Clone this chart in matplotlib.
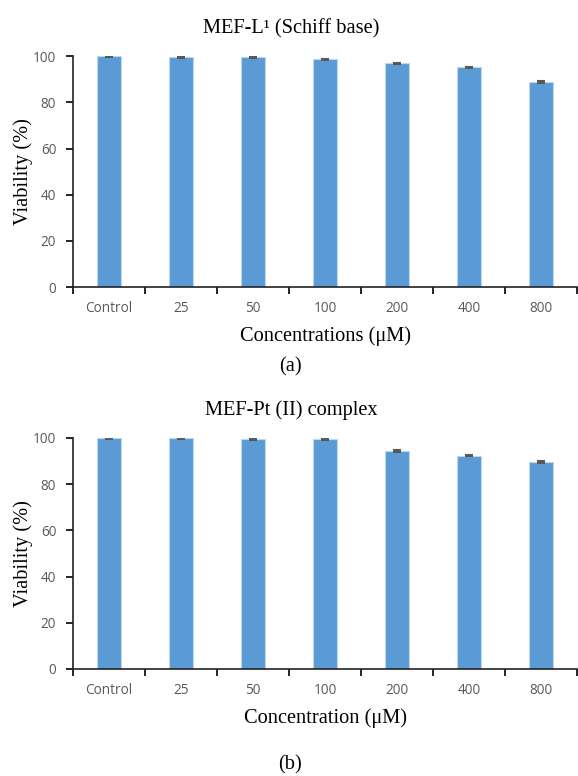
import matplotlib
matplotlib.use("Agg")
import matplotlib.pyplot as plt
import numpy as np

# data
categories = ["Control", "25", "50", "100", "200", "400", "800"]
viab_a = [100.0, 99.5, 99.4, 98.6, 96.9, 95.1, 88.8]
err_a = [0.3, 0.3, 0.3, 0.3, 0.3, 0.3, 0.3]
viab_b = [100.0, 100.0, 99.6, 99.6, 94.3, 92.4, 89.6]
err_b = [0.3, 0.3, 0.3, 0.3, 0.3, 0.3, 0.3]
yticks = [0, 20, 40, 60, 80, 100]

bar_color = "#5B9BD5"
edge_color = "#BDD7EE"
tick_color = "#595959"
serif = "Liberation Serif"
sans = "Open Sans"
fs = 14.7

fig = plt.figure(figsize=(5.78, 7.76), dpi=100)
ax1 = fig.add_axes([0.1263, 0.630, 0.872, 0.2977])
ax2 = fig.add_axes([0.1263, 0.1379, 0.872, 0.2977])


def draw_panel(ax, vals, errs, title, xlabel):
    x = np.arange(len(categories))
    ax.bar(x, vals, width=0.32, color=bar_color, edgecolor=edge_color, linewidth=0.8,
           yerr=errs, error_kw=dict(ecolor=tick_color, elinewidth=0.8, capsize=3, capthick=1.5))
    ax.set_xlim(-0.5, len(categories) - 0.5)
    ax.set_ylim(0, 100)
    ax.set_yticks(yticks)
    ax.set_yticklabels([str(t) for t in yticks], fontfamily=sans, fontsize=9.8, color=tick_color)
    # category labels in the middle, ticks at the boundaries
    ax.set_xticks(x)
    ax.set_xticklabels(categories, fontfamily=sans, fontsize=9.8, color=tick_color)
    ax.tick_params(axis="x", length=0, pad=10)
    ax.set_xticks(np.arange(len(categories) + 1) - 0.5, minor=True)
    ax.tick_params(axis="x", which="minor", length=5, width=1.2, color="black", direction="out")
    ax.tick_params(axis="y", length=5, width=1.2, color="black", direction="out", pad=7)
    for s in ["top", "right"]:
        ax.spines[s].set_visible(False)
    for s in ["left", "bottom"]:
        ax.spines[s].set_linewidth(1.2)
        ax.spines[s].set_color("#222222")
    # title sits over the figure centre, not the axes centre
    ax.set_title(title, fontfamily=serif, fontsize=fs, pad=16.5, x=0.4325)
    ax.set_xlabel(xlabel, fontfamily=serif, fontsize=fs, labelpad=7.5)
    ax.set_ylabel("Viability (%)", fontfamily=serif, fontsize=fs, labelpad=0)


draw_panel(ax1, viab_a, err_a, "MEF-L¹ (Schiff base)", "Concentrations (μM)")
draw_panel(ax2, viab_b, err_b, "MEF-Pt (II) complex", "Concentration (μM)")

fig.text(290 / 578, 1 - 367 / 776, "(a)", fontfamily=serif, fontsize=fs, ha="center", va="center")
fig.text(290 / 578, 1 - 765 / 776, "(b)", fontfamily=serif, fontsize=fs, ha="center", va="center")

fig.savefig("out.png", dpi=100)
